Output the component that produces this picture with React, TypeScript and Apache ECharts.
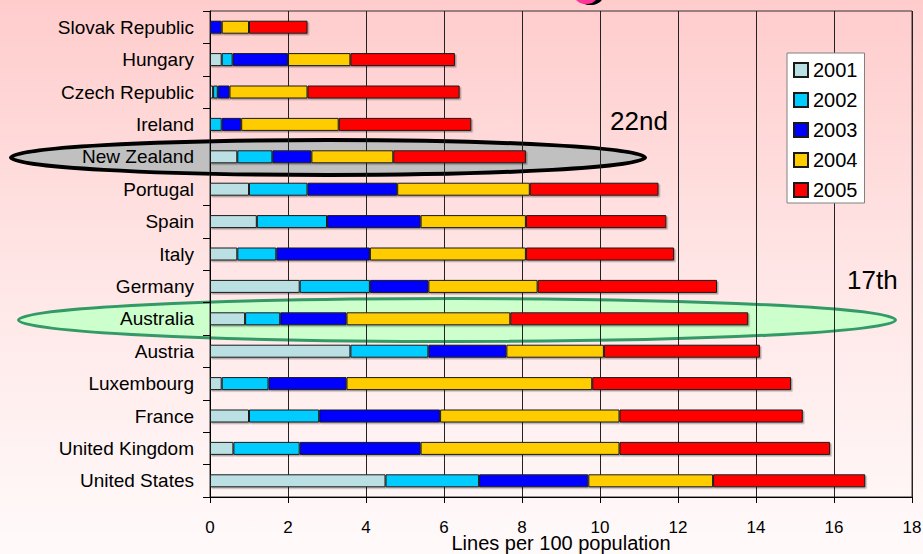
import React, { useEffect, useRef } from "react";
import * as echarts from "echarts";

const countries = [
  "United States", "United Kingdom", "France", "Luxembourg", "Austria",
  "Australia", "Germany", "Italy", "Spain", "Portugal", "New Zealand",
  "Ireland", "Czech Republic", "Hungary", "Slovak Republic",
];
const years = ["2001", "2002", "2003", "2004", "2005"];
const v2001 = [4.5, 0.6, 1.0, 0.3, 3.6, 0.9, 2.3, 0.7, 1.2, 1.0, 0.7, 0, 0.08, 0.3, 0];
const v2002 = [2.4, 1.7, 1.8, 1.2, 2.0, 0.9, 1.8, 1.0, 1.8, 1.5, 0.9, 0.3, 0.12, 0.28, 0];
const v2003 = [2.8, 3.1, 3.1, 2.0, 2.0, 1.7, 1.5, 2.4, 2.4, 2.3, 1.0, 0.5, 0.3, 1.42, 0.3];
const v2004 = [3.2, 5.1, 4.6, 6.3, 2.5, 4.2, 2.8, 4.0, 2.7, 3.4, 2.1, 2.5, 2.0, 1.6, 0.7];
const v2005 = [3.9, 5.4, 4.7, 5.1, 4.0, 6.1, 4.6, 3.8, 3.6, 3.3, 3.4, 3.4, 3.9, 2.68, 1.5];
const seriesValues = [v2001, v2002, v2003, v2004, v2005];
const colors = ["#BBE0E3", "#00CCFF", "#0000FF", "#FFCC00", "#FF0000"];
const xTicks = [0, 2, 4, 6, 8, 10, 12, 14, 16, 18];
const axisTitle = "Lines per 100 population";
const noteNZ = "22nd";
const noteAU = "17th";

const FONT = '"Liberation Sans", Arial, sans-serif';

export default function App() {
  const ref = useRef<HTMLDivElement>(null);
  useEffect(() => {
    if (!ref.current) return;
    const chart = echarts.init(ref.current, null, { renderer: "svg" });
    chart.setOption({
      animation: false,
      backgroundColor: "transparent",
      textStyle: { fontFamily: FONT },
      grid: {
        left: 210, right: 11, top: 11, bottom: 57,
        containLabel: false, outerBoundsMode: "none",
        show: true, borderColor: "#333", borderWidth: 1, backgroundColor: "transparent",
      },
      legend: {
        orient: "vertical",
        left: 787,
        top: 53,
        padding: [7, 7, 3, 6],
        itemGap: 10,
        itemWidth: 14,
        itemHeight: 14,
        itemTextGap: 5,
        icon: "rect",
        backgroundColor: "#FFFFFF",
        borderColor: "#808080",
        borderWidth: 1,
        borderRadius: 0,
        data: years,
        textStyle: { fontSize: 20, lineHeight: 20, color: "#000", fontFamily: FONT },
      },
      xAxis: {
        type: "value",
        min: xTicks[0],
        max: xTicks[xTicks.length - 1],
        interval: 2,
        name: axisTitle,
        nameLocation: "middle",
        nameGap: 36,
        nameMoveOverlap: false,
        nameTextStyle: { fontSize: 20, lineHeight: 20, color: "#000", fontFamily: FONT },
        axisLine: { show: true, lineStyle: { color: "#000", width: 1 } },
        axisTick: { show: true, length: 6, lineStyle: { color: "#000" } },
        axisLabel: { fontSize: 17, color: "#000", margin: 22, fontFamily: FONT },
        splitLine: { show: true, lineStyle: { color: "#222", width: 1 } },
      },
      yAxis: {
        type: "category",
        data: countries,
        axisLine: { show: true, lineStyle: { color: "#000", width: 1 } },
        axisTick: { show: true, length: 7, lineStyle: { color: "#000" } },
        axisLabel: { fontSize: 19, color: "#000", margin: 16, fontFamily: FONT },
        splitLine: { show: false },
      },
      graphic: [
        { type: "ellipse", z: -10, shape: { cx: 328, cy: 157.5, rx: 317, ry: 17.5 }, style: { fill: "#C0C0C0", stroke: "#000", lineWidth: 4 } },
        { type: "ellipse", z: -10, shape: { cx: 457, cy: 320, rx: 438.5, ry: 21.5 }, style: { fill: "#CCFFCC", stroke: "#339966", lineWidth: 3 } },
        { type: "text", z: 100, left: 610, top: 108, style: { text: noteNZ, fontSize: 26, fill: "#000", fontFamily: FONT } },
        { type: "text", z: 100, left: 847, top: 267, style: { text: noteAU, fontSize: 26, fill: "#000", fontFamily: FONT } },
        { type: "ellipse", z: 100, shape: { cx: 590.5, cy: -2.5, rx: 12, ry: 7.5 }, style: { fill: "#000" } },
        { type: "ellipse", z: 101, shape: { cx: 586, cy: -3, rx: 11, ry: 7 }, style: { fill: "#FF3399" } },
      ],
      series: years.map((y, i) => ({
        name: y,
        type: "bar",
        stack: "total",
        barWidth: 13,
        data: seriesValues[i],
        itemStyle: {
          color: colors[i],
          borderColor: "#1a1a1a",
          borderWidth: 1,
          shadowColor: "rgba(0,0,0,0.3)",
          shadowBlur: 1,
          shadowOffsetX: 1.5,
          shadowOffsetY: 1.5,
        },
        emphasis: { disabled: true },
      })),
    });
    return () => chart.dispose();
  }, []);
  return (
    <div
      ref={ref}
      style={{
        position: "absolute",
        left: 0,
        top: 0,
        width: 923,
        height: 554,
        background: "linear-gradient(to bottom, #FFCCCC 0%, #FFE6E6 50%, #FFFAFA 100%)",
      }}
    />
  );
}
